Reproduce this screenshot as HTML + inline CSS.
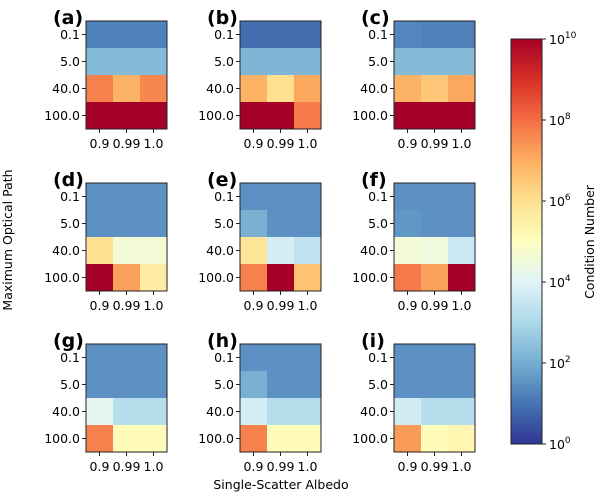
<!DOCTYPE html>
<html><head><meta charset="utf-8"><style>
body{margin:0;background:#fff;}
svg{display:block;font-family:"DejaVu Sans","Liberation Sans",sans-serif;}
</style></head><body>
<svg id="fig" width="600" height="496" viewBox="0 0 600 496">
<defs><linearGradient id="cb" x1="0" y1="1" x2="0" y2="0">
<stop offset="0" stop-color="#313695"/><stop offset="0.1" stop-color="#4575b4"/><stop offset="0.2" stop-color="#74add1"/><stop offset="0.3" stop-color="#abd9e9"/><stop offset="0.4" stop-color="#e0f3f8"/><stop offset="0.5" stop-color="#ffffbf"/><stop offset="0.6" stop-color="#fee090"/><stop offset="0.7" stop-color="#fdae61"/><stop offset="0.8" stop-color="#f46d43"/><stop offset="0.9" stop-color="#d73027"/><stop offset="1" stop-color="#a50026"/>
</linearGradient></defs>
<text transform="translate(12,240) rotate(-90)" text-anchor="middle" font-size="12.5">Maximum Optical Path</text>
<text x="281" y="489" text-anchor="middle" font-size="12.5">Single-Scatter Albedo</text>
<text transform="translate(594,242) rotate(-90)" text-anchor="middle" font-size="12.5">Condition Number</text>
</svg>
<script>
const panelLabels = ['(a)','(b)','(c)','(d)','(e)','(f)','(g)','(h)','(i)'];
const xCategories = ['0.9','0.99','1.0'];
const yCategories = ['0.1','5.0','40.0','100.0'];
// log10(condition number) values, rows = optical path, cols = albedo
const panelA = [[1.2,1.2,1.2],[2.3,2.3,2.3],[7.7,6.9,7.6],[10,10,10]];
const panelB = [[0.9,0.9,0.9],[2.2,2.2,2.2],[6.9,6.0,7.1],[10,10,7.8]];
const panelC = [[1.3,1.2,1.2],[2.3,2.3,2.3],[6.9,6.5,7.1],[10,10,10]];
const panelD = [[1.5,1.5,1.5],[1.5,1.5,1.5],[5.9,4.6,4.6],[10,7.2,5.6]];
const panelE = [[1.5,1.5,1.5],[2.1,1.5,1.5],[5.8,3.8,3.4],[7.7,10,6.6]];
const panelF = [[1.5,1.5,1.5],[1.6,1.5,1.5],[4.6,4.5,3.6],[7.8,7.2,10]];
const panelG = [[1.5,1.5,1.5],[1.5,1.5,1.5],[4.2,3.2,3.2],[7.7,5.1,5.1]];
const panelH = [[1.5,1.5,1.5],[2.1,1.5,1.5],[3.8,3.2,3.2],[7.7,5.1,5.1]];
const panelI = [[1.5,1.5,1.5],[1.5,1.5,1.5],[3.7,3.2,3.2],[7.3,5.1,5.3]];
const colorbarTicks = [0,2,4,6,8,10];
const vmin = 0, vmax = 10;

const panels=[panelA,panelB,panelC,panelD,panelE,panelF,panelG,panelH,panelI];
const stops=['#313695','#4575b4','#74add1','#abd9e9','#e0f3f8','#ffffbf','#fee090','#fdae61','#f46d43','#d73027','#a50026'];
function hex(h){return [1,3,5].map(i=>parseInt(h.substr(i,2),16));}
function cmap(v){let t=Math.max(0,Math.min(1,(v-vmin)/(vmax-vmin)))*10;let i=Math.min(9,Math.floor(t));let f=t-i;
 const a=hex(stops[i]),b=hex(stops[i+1]);return 'rgb('+a.map((c,k)=>Math.round(c+(b[k]-c)*f)).join(',')+')';}
const svg=document.getElementById('fig');const NS='http://www.w3.org/2000/svg';
function mk(tag,attrs,parent){const e=document.createElementNS(NS,tag);for(const k in attrs)e.setAttribute(k,attrs[k]);(parent||svg).appendChild(e);return e;}
const colX=[86,240,394], rowY=[21,183,344], W=81, H=108;
panels.forEach((data,p)=>{
 const x0=colX[p%3], y0=rowY[Math.floor(p/3)];
 const g=mk('g',{});
 
 
 const cw=W/xCategories.length, ch=H/yCategories.length;
 data.forEach((row,r)=>row.forEach((v,c)=>{
  const rc=mk('rect',{x:x0+c*cw,y:y0+r*ch,width:cw+0.3,height:ch+0.3,fill:cmap(v)},g);
  
  
 }));
 mk('rect',{x:x0,y:y0,width:W,height:H,fill:'none',stroke:'#222','stroke-width':1},g);
 yCategories.forEach((l,r)=>{const yy=y0+(r+0.5)*ch;
  mk('line',{x1:x0-4,x2:x0,y1:yy,y2:yy,stroke:'#222'},g);
  const t=mk('text',{x:x0-6,y:yy+4.5,'text-anchor':'end','font-size':12.5},g);t.textContent=l;
  
  });
 xCategories.forEach((l,c)=>{const xx=x0+(c+0.5)*cw;
  mk('line',{x1:xx,x2:xx,y1:y0+H,y2:y0+H+4,stroke:'#222'},g);
  const t=mk('text',{x:xx,y:y0+H+19,'text-anchor':'middle','font-size':12.5},g);t.textContent=l;
  
  });
 const lb=mk('text',{x:x0-33,y:y0+3,'font-size':19,'font-weight':'bold'},g);lb.textContent=panelLabels[p];
 
 
});
// colorbar
const cbX=511,cbY=39,cbW=31,cbH=405;
const cb=mk('rect',{x:cbX,y:cbY,width:cbW,height:cbH,fill:'url(#cb)',stroke:'#222','stroke-width':1});


colorbarTicks.forEach(v=>{const yy=cbY+cbH-(v-vmin)/(vmax-vmin)*cbH;
 mk('line',{x1:cbX+cbW,x2:cbX+cbW+4,y1:yy,y2:yy,stroke:'#222'});
 const t=mk('text',{x:cbX+cbW+7,y:yy+5,'font-size':12.5});
 
 
 t.textContent='10';const s=mk('tspan',{dy:-6,'font-size':9},t);s.textContent=String(v);});
</script>
</body></html>
